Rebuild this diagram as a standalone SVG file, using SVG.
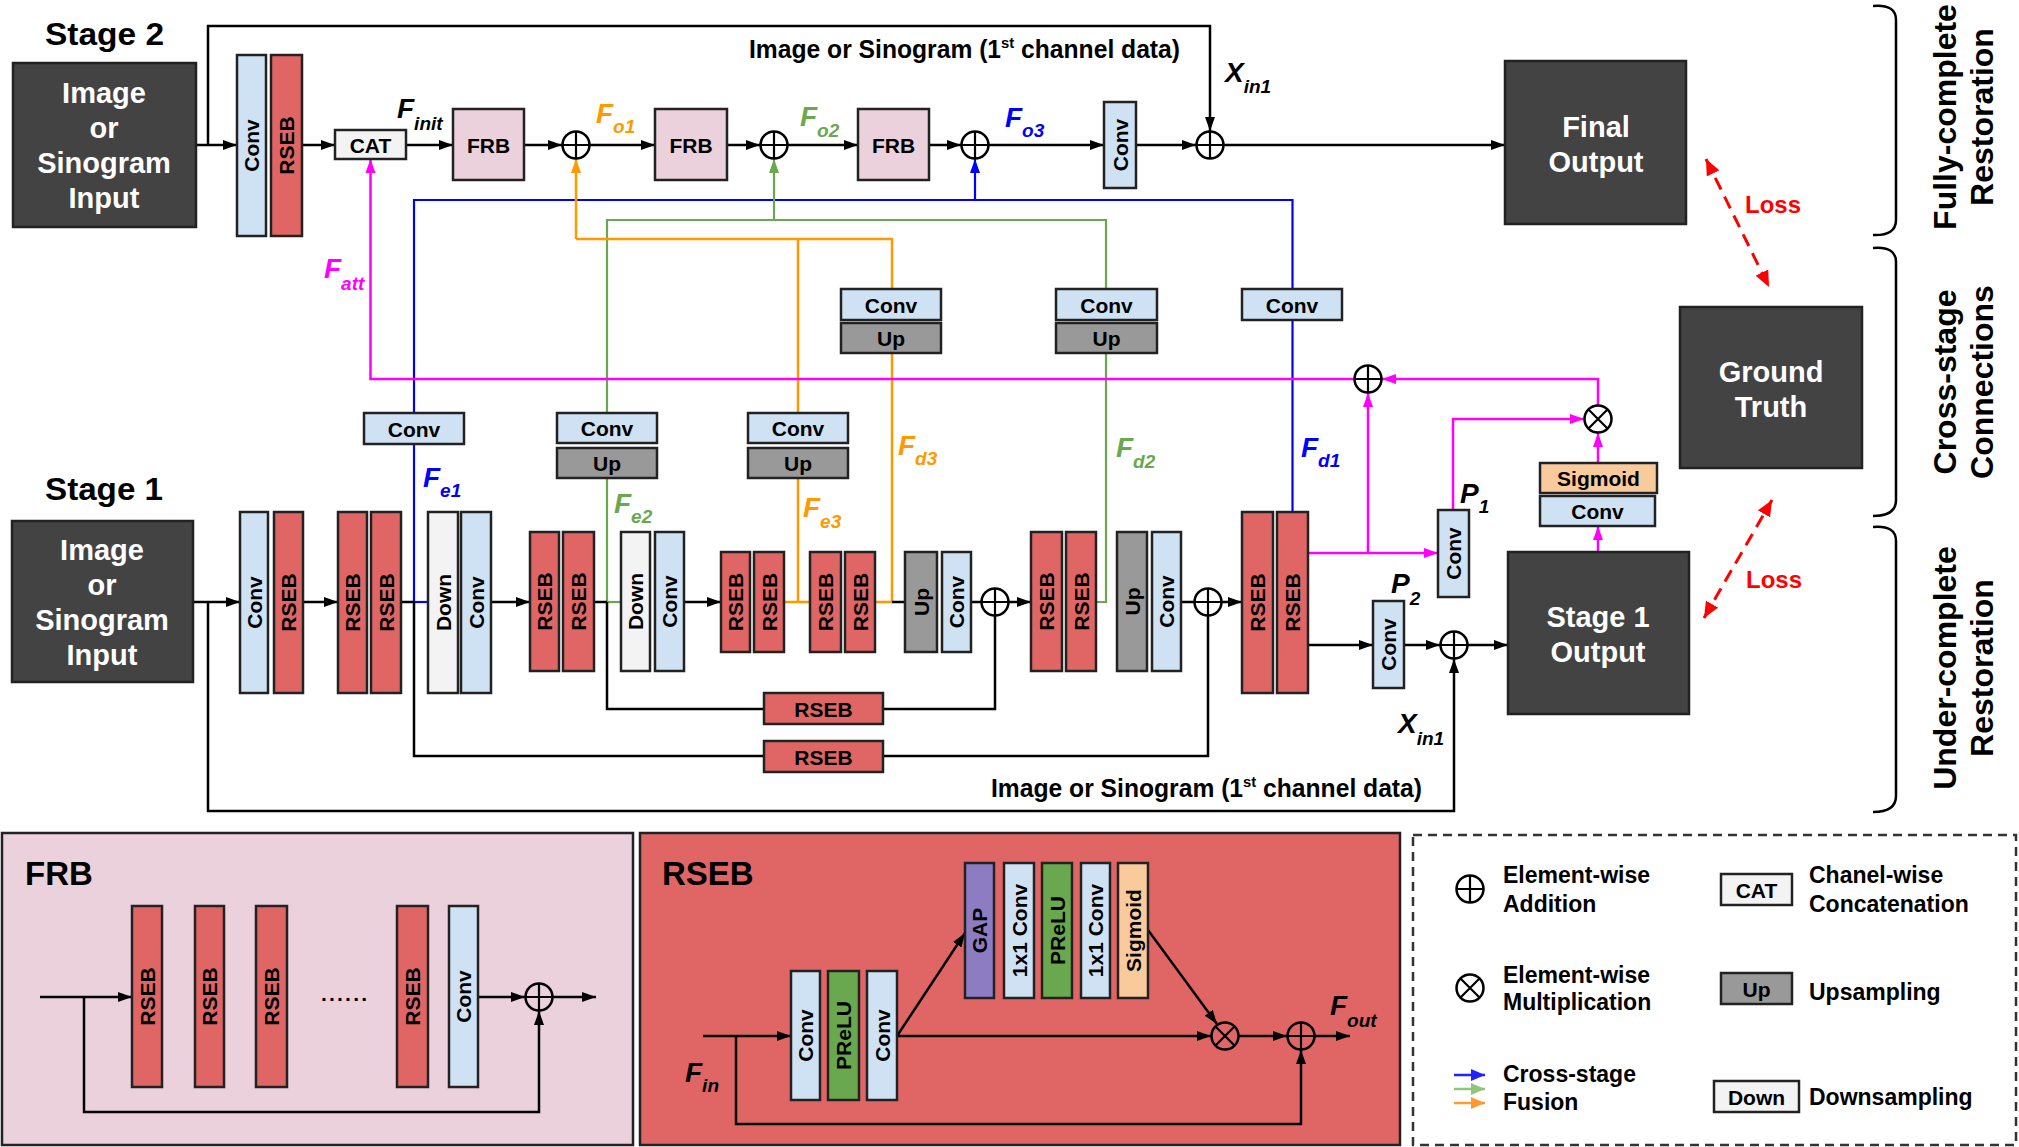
<svg xmlns="http://www.w3.org/2000/svg" width="2019" height="1147" viewBox="0 0 2019 1147">
<style>
.t{font-family:"Liberation Sans",Arial,sans-serif;font-weight:bold;fill:#000}
.b{stroke:#222;stroke-width:2.5}
.conv{fill:#cfe2f3}.rseb{fill:#e06666}.down{fill:#f3f3f3}.up{fill:#999}.frb{fill:#ead1dc}.dark{fill:#434343}
.sig{fill:#f9cb9c}.gap{fill:#8e7cc3}.prelu{fill:#6aa84f}
.vl{font-size:21px;text-anchor:middle;dominant-baseline:central}
.hl{font-size:21px;text-anchor:middle;dominant-baseline:central}
.wt{font-size:29px;fill:#fff;text-anchor:middle}
.k{fill:none;stroke:#000;stroke-width:2.5}
.mg{fill:none;stroke:#ff00ff;stroke-width:2.5}
.bl{fill:none;stroke:#0000ff;stroke-width:2.2}
.gr{fill:none;stroke:#6aa84f;stroke-width:2.2}
.or{fill:none;stroke:#ff9900;stroke-width:2.5}
.fl{font-size:28px;font-style:italic}
.sb{font-size:19px;font-style:italic}
.lg{font-size:23px}
.side{font-size:32px;text-anchor:middle}
</style>
<defs>
<marker id="ak" viewBox="0 0 14 10" refX="14" refY="5" markerWidth="14" markerHeight="10" markerUnits="userSpaceOnUse" orient="auto"><path d="M0,0L14,5L0,10z" fill="#000"/></marker>
<marker id="am" viewBox="0 0 14 10" refX="14" refY="5" markerWidth="14" markerHeight="10" markerUnits="userSpaceOnUse" orient="auto"><path d="M0,0L14,5L0,10z" fill="#ff00ff"/></marker>
<marker id="ab" viewBox="0 0 14 10" refX="14" refY="5" markerWidth="14" markerHeight="10" markerUnits="userSpaceOnUse" orient="auto"><path d="M0,0L14,5L0,10z" fill="#0000ff"/></marker>
<marker id="ag" viewBox="0 0 14 10" refX="14" refY="5" markerWidth="14" markerHeight="10" markerUnits="userSpaceOnUse" orient="auto"><path d="M0,0L14,5L0,10z" fill="#6aa84f"/></marker>
<marker id="ao" viewBox="0 0 14 10" refX="14" refY="5" markerWidth="14" markerHeight="10" markerUnits="userSpaceOnUse" orient="auto"><path d="M0,0L14,5L0,10z" fill="#ff9900"/></marker>
<marker id="ar" viewBox="0 0 16 14" refX="16" refY="7" markerWidth="16" markerHeight="14" markerUnits="userSpaceOnUse" orient="auto-start-reverse"><path d="M0,0L16,7L0,14z" fill="#ff0000"/></marker>
<marker id="lb" viewBox="0 0 14 12" refX="14" refY="6" markerWidth="14" markerHeight="12" markerUnits="userSpaceOnUse" orient="auto"><path d="M0,0L14,6L0,12z" fill="#2222ff"/></marker>
<marker id="lgm" viewBox="0 0 14 12" refX="14" refY="6" markerWidth="14" markerHeight="12" markerUnits="userSpaceOnUse" orient="auto"><path d="M0,0L14,6L0,12z" fill="#93c47d"/></marker>
<marker id="lo" viewBox="0 0 14 12" refX="14" refY="6" markerWidth="14" markerHeight="12" markerUnits="userSpaceOnUse" orient="auto"><path d="M0,0L14,6L0,12z" fill="#ff9933"/></marker>
<g id="plus"><circle r="13.5" fill="none" stroke="#000" stroke-width="2.5"/><path d="M-13.5,0H13.5M0,-13.5V13.5" stroke="#000" stroke-width="2.2"/></g>
<g id="mul"><circle r="13.5" fill="none" stroke="#000" stroke-width="2.5"/><path d="M-9.5,-9.5L9.5,9.5M-9.5,9.5L9.5,-9.5" stroke="#000" stroke-width="2.2"/></g>
</defs>
<rect width="2019" height="1147" fill="#fff"/>

<!-- panels -->
<g id="frb-panel">
<rect x="2" y="833" width="631" height="312" fill="#ead1dc" stroke="#222" stroke-width="2.5"/>
<text class="t" x="25" y="885" font-size="33">FRB</text>
</g>
<g id="rseb-panel">
<rect x="640" y="833" width="760" height="312" fill="#e06666" stroke="#222" stroke-width="2.5"/>
<text class="t" x="662" y="885" font-size="33">RSEB</text>
</g>
<g id="legend">
<rect x="1413" y="835" width="603" height="310" fill="none" stroke="#333" stroke-width="2.5" stroke-dasharray="9 6"/>
<use href="#plus" x="1470" y="889"/>
<text class="t lg" x="1503" y="883">Element-wise</text>
<text class="t lg" x="1503" y="912">Addition</text>
<use href="#mul" x="1470" y="988"/>
<text class="t lg" x="1503" y="983">Element-wise</text>
<text class="t lg" x="1503" y="1010">Multiplication</text>
<path d="M1454,1075H1485" stroke="#2222ff" stroke-width="2.5" marker-end="url(#lb)"/>
<path d="M1454,1089H1485" stroke="#93c47d" stroke-width="2.5" marker-end="url(#lgm)"/>
<path d="M1454,1103H1485" stroke="#ff9933" stroke-width="2.5" marker-end="url(#lo)"/>
<text class="t lg" x="1503" y="1082">Cross-stage</text>
<text class="t lg" x="1503" y="1110">Fusion</text>
<rect class="b down" x="1721" y="874" width="71" height="31"/>
<text class="t hl" x="1756.5" y="890">CAT</text>
<text class="t lg" x="1809" y="883">Chanel-wise</text>
<text class="t lg" x="1809" y="912">Concatenation</text>
<rect class="b up" x="1721" y="973" width="71" height="31"/>
<text class="t hl" x="1756.5" y="989">Up</text>
<text class="t lg" x="1809" y="1000">Upsampling</text>
<rect class="b down" x="1714" y="1081" width="85" height="31"/>
<text class="t hl" x="1756.5" y="1097">Down</text>
<text class="t lg" x="1809" y="1105">Downsampling</text>
</g>

<!-- connectors -->
<g id="connectors">
<!-- stage 2 -->
<path class="k" d="M196,145H237" marker-end="url(#ak)"/>
<path class="k" d="M208,145V26H1210V131" marker-end="url(#ak)"/>
<path class="k" d="M302,145H335" marker-end="url(#ak)"/>
<path class="k" d="M406,145H453" marker-end="url(#ak)"/>
<path class="k" d="M524,145H562" marker-end="url(#ak)"/>
<path class="k" d="M590,145H655" marker-end="url(#ak)"/>
<path class="k" d="M727,145H760" marker-end="url(#ak)"/>
<path class="k" d="M788,145H858" marker-end="url(#ak)"/>
<path class="k" d="M929,145H961" marker-end="url(#ak)"/>
<path class="k" d="M989,145H1104" marker-end="url(#ak)"/>
<path class="k" d="M1136,145H1196" marker-end="url(#ak)"/>
<path class="k" d="M1224,145H1505" marker-end="url(#ak)"/>
<!-- cross-stage fusion -->
<path class="bl" d="M414,602V444M414,413V200H1292.5V289M1292.5,320V512"/>
<path class="bl" d="M975,200V159" marker-end="url(#ab)"/>
<path class="bl" d="M414,602H428"/>
<path class="gr" d="M607,602V478M607,413V220H1106V289M1106,353V602H1096"/>
<path class="gr" d="M607,602H621"/>
<path class="gr" d="M774,220V159" marker-end="url(#ag)"/>
<path class="or" d="M798,602V478M798,413V239M576,239H892V289M892,353V602H875"/>
<path class="or" d="M784,602H810"/>
<path class="or" d="M576,239V159" marker-end="url(#ao)"/>
<!-- attention -->
<path class="mg" d="M1354,379H370.5V159" marker-end="url(#am)"/>
<path class="mg" d="M1598,405V379H1382" marker-end="url(#am)"/>
<path class="mg" d="M1308,553H1438" marker-end="url(#am)"/>
<path class="mg" d="M1368,553V393" marker-end="url(#am)"/>
<path class="mg" d="M1453,510V419H1584" marker-end="url(#am)"/>
<path class="mg" d="M1598,463V433" marker-end="url(#am)"/>
<path class="mg" d="M1598,552V526" marker-end="url(#am)"/>
<!-- stage 1 -->
<path class="k" d="M193,602H240" marker-end="url(#ak)"/>
<path class="k" d="M208,602V811H1454V659" marker-end="url(#ak)"/>
<path class="k" d="M303,602H338" marker-end="url(#ak)"/>
<path class="k" d="M401,602H414"/>
<path class="k" d="M491,602H530" marker-end="url(#ak)"/>
<path class="k" d="M594,602H607"/>
<path class="k" d="M684,602H721" marker-end="url(#ak)"/>
<path class="k" d="M892,602H905"/>
<path class="k" d="M971,602H982"/>
<path class="k" d="M1008,602H1031" marker-end="url(#ak)"/>
<path class="k" d="M1181,602H1195"/>
<path class="k" d="M1221,602H1242" marker-end="url(#ak)"/>
<path class="k" d="M995,615V709H883M764,709H607V602"/>
<path class="k" d="M1208,615V756H883M764,756H414V602"/>
<path class="k" d="M1308,645H1373" marker-end="url(#ak)"/>
<path class="k" d="M1404,645H1440" marker-end="url(#ak)"/>
<path class="k" d="M1468,645H1508" marker-end="url(#ak)"/>
<!-- loss -->
<path d="M1706,159L1769,287" fill="none" stroke="#ff0000" stroke-width="3" stroke-dasharray="13 8" marker-start="url(#ar)" marker-end="url(#ar)"/>
<path d="M1704,618L1772,500" fill="none" stroke="#ff0000" stroke-width="3" stroke-dasharray="13 8" marker-start="url(#ar)" marker-end="url(#ar)"/>
<!-- braces -->
<path class="k" stroke-width="3" d="M1873,6Q1896,4 1896,20V220Q1896,236 1873,235"/>
<path class="k" stroke-width="3" d="M1873,248Q1896,246 1896,262V500Q1896,516 1873,516"/>
<path class="k" stroke-width="3" d="M1873,527Q1896,525 1896,541V796Q1896,812 1873,812"/>
<!-- FRB panel -->
<path class="k" d="M40,997H132" marker-end="url(#ak)"/>
<path class="k" d="M84,997V1112H539V1011" marker-end="url(#ak)"/>
<path class="k" d="M478,997H525" marker-end="url(#ak)"/>
<path class="k" d="M553,997H596" marker-end="url(#ak)"/>
<!-- RSEB panel -->
<path class="k" d="M703,1036H791" marker-end="url(#ak)"/>
<path class="k" d="M736,1036V1124H1301V1050" marker-end="url(#ak)"/>
<path class="k" d="M897,1036L965,933" marker-end="url(#ak)"/>
<path class="k" d="M897,1036H1211" marker-end="url(#ak)"/>
<path class="k" d="M1148,930L1217,1024" marker-end="url(#ak)"/>
<path class="k" d="M1239,1036H1287" marker-end="url(#ak)"/>
<path class="k" d="M1315,1036H1350" marker-end="url(#ak)"/>
</g>

<!-- stage 2 nodes -->
<text class="t" x="45" y="45" font-size="32" textLength="119" lengthAdjust="spacingAndGlyphs">Stage 2</text>
<g id="s2-input">
<rect class="b dark" x="13" y="63" width="183" height="164"/>
<text class="t wt" x="104" y="103">Image</text>
<text class="t wt" x="104" y="138">or</text>
<text class="t wt" x="104" y="173">Sinogram</text>
<text class="t wt" x="104" y="208">Input</text>
</g>
<g id="s2-conv"><rect class="b conv" x="237" y="55" width="29" height="181"/><text class="t vl" transform="translate(251.5,145.5) rotate(-90)">Conv</text></g>
<g id="s2-rseb"><rect class="b rseb" x="271" y="55" width="31" height="181"/><text class="t vl" transform="translate(286.5,145.5) rotate(-90)">RSEB</text></g>
<g id="cat"><rect class="b down" x="335" y="130" width="71" height="29"/><text class="t hl" x="370.5" y="145">CAT</text></g>
<g id="frb1"><rect class="b frb" x="453" y="109" width="71" height="71"/><text class="t hl" x="488.5" y="145">FRB</text></g>
<g id="frb2"><rect class="b frb" x="655" y="109" width="72" height="71"/><text class="t hl" x="691" y="145">FRB</text></g>
<g id="frb3"><rect class="b frb" x="858" y="109" width="71" height="71"/><text class="t hl" x="893.5" y="145">FRB</text></g>
<g id="add-o1"><use href="#plus" x="576" y="145"/></g>
<g id="add-o2"><use href="#plus" x="774" y="145"/></g>
<g id="add-o3"><use href="#plus" x="975" y="145"/></g>
<g id="s2-conv-out"><rect class="b conv" x="1104" y="102" width="32" height="86"/><text class="t vl" transform="translate(1120,145) rotate(-90)">Conv</text></g>
<g id="add-out"><use href="#plus" x="1210" y="145"/></g>
<g id="final-output">
<rect class="b dark" x="1505" y="61" width="181" height="163"/>
<text class="t wt" x="1596" y="137">Final</text>
<text class="t wt" x="1596" y="172">Output</text>
</g>
<text class="t" x="749" y="58" font-size="25" textLength="431" lengthAdjust="spacingAndGlyphs">Image or Sinogram (1<tspan font-size="15" dy="-10">st</tspan><tspan dy="10"> channel data)</tspan></text>

<!-- labels -->
<g id="labels">
<text class="t fl" x="397" y="118">F<tspan class="sb" font-size="19" dy="12">init</tspan></text>
<text class="t fl" x="596" y="123" fill="#ff9900" style="fill:#ff9900">F<tspan font-size="19" dy="10">o1</tspan></text>
<text class="t fl" x="800" y="126" style="fill:#6aa84f">F<tspan font-size="19" dy="11">o2</tspan></text>
<text class="t fl" x="1005" y="127" style="fill:#0000ff">F<tspan font-size="19" dy="10">o3</tspan></text>
<text class="t fl" x="1225" y="82">X<tspan font-size="19" dy="11">in1</tspan></text>
<text class="t fl" x="324" y="278" style="fill:#ff00ff">F<tspan font-size="19" dy="12">att</tspan></text>
<text class="t fl" x="423" y="487" style="fill:#0000ff">F<tspan font-size="19" dy="10">e1</tspan></text>
<text class="t fl" x="614" y="513" style="fill:#6aa84f">F<tspan font-size="19" dy="10">e2</tspan></text>
<text class="t fl" x="803" y="517" style="fill:#ff9900">F<tspan font-size="19" dy="11">e3</tspan></text>
<text class="t fl" x="898" y="455" style="fill:#ff9900">F<tspan font-size="19" dy="10">d3</tspan></text>
<text class="t fl" x="1116" y="457" style="fill:#6aa84f">F<tspan font-size="19" dy="11">d2</tspan></text>
<text class="t fl" x="1301" y="457" style="fill:#0000ff">F<tspan font-size="19" dy="10">d1</tspan></text>
<text class="t fl" x="1460" y="503">P<tspan font-size="19" dy="10">1</tspan></text>
<text class="t fl" x="1391" y="593">P<tspan font-size="19" dy="12">2</tspan></text>
<text class="t fl" x="1398" y="733">X<tspan font-size="19" dy="12">in1</tspan></text>
<text class="t fl" x="685" y="1082">F<tspan font-size="19" dy="10">in</tspan></text>
<text class="t fl" x="1330" y="1015">F<tspan font-size="19" dy="12">out</tspan></text>
<text class="t" x="1745" y="213" font-size="24" style="fill:#ff0000">Loss</text>
<text class="t" x="1746" y="588" font-size="24" style="fill:#ff0000">Loss</text>
<text class="t side" transform="translate(1956,117) rotate(-90)">Fully-complete</text>
<text class="t side" transform="translate(1993,117) rotate(-90)">Restoration</text>
<text class="t side" transform="translate(1956,382) rotate(-90)">Cross-stage</text>
<text class="t side" transform="translate(1993,382) rotate(-90)">Connections</text>
<text class="t side" transform="translate(1956,668) rotate(-90)">Under-complete</text>
<text class="t side" transform="translate(1993,668) rotate(-90)">Restoration</text>
</g>

<!-- cross-stage conv/up nodes -->
<g id="fe1-conv"><rect class="b conv" x="364" y="413" width="100" height="31"/><text class="t hl" x="414" y="429">Conv</text></g>
<g id="fe2-convup"><rect class="b conv" x="557" y="413" width="100" height="30"/><text class="t hl" x="607" y="428.5">Conv</text><rect class="b up" x="557" y="448" width="100" height="30"/><text class="t hl" x="607" y="463.5">Up</text></g>
<g id="fe3-convup"><rect class="b conv" x="748" y="413" width="100" height="30"/><text class="t hl" x="798" y="428.5">Conv</text><rect class="b up" x="748" y="448" width="100" height="30"/><text class="t hl" x="798" y="463.5">Up</text></g>
<g id="fd3-convup"><rect class="b conv" x="841" y="289" width="100" height="31"/><text class="t hl" x="891" y="305">Conv</text><rect class="b up" x="841" y="323" width="100" height="30"/><text class="t hl" x="891" y="338.5">Up</text></g>
<g id="fd2-convup"><rect class="b conv" x="1056" y="289" width="101" height="31"/><text class="t hl" x="1106.5" y="305">Conv</text><rect class="b up" x="1056" y="323" width="101" height="30"/><text class="t hl" x="1106.5" y="338.5">Up</text></g>
<g id="fd1-conv"><rect class="b conv" x="1242" y="289" width="100" height="31"/><text class="t hl" x="1292" y="305">Conv</text></g>
<g id="add-att"><use href="#plus" x="1368" y="379"/></g>
<g id="mul-att"><use href="#mul" x="1598" y="419"/></g>
<g id="sigmoid"><rect class="b sig" x="1540" y="463" width="117" height="30"/><text class="t hl" x="1598.5" y="478.5">Sigmoid</text></g>
<g id="sam-conv"><rect class="b conv" x="1540" y="496" width="115" height="30"/><text class="t hl" x="1597.5" y="511.5">Conv</text></g>
<g id="ground-truth">
<rect class="b dark" x="1680" y="307" width="182" height="161"/>
<text class="t wt" x="1771" y="382">Ground</text>
<text class="t wt" x="1771" y="417">Truth</text>
</g>

<!-- stage 1 nodes -->
<text class="t" x="45" y="500" font-size="32" textLength="118" lengthAdjust="spacingAndGlyphs">Stage 1</text>
<g id="s1-input">
<rect class="b dark" x="12" y="521" width="181" height="161"/>
<text class="t wt" x="102" y="560">Image</text>
<text class="t wt" x="102" y="595">or</text>
<text class="t wt" x="102" y="630">Sinogram</text>
<text class="t wt" x="102" y="665">Input</text>
</g>
<g id="s1-conv"><rect class="b conv" x="240" y="512" width="28" height="181"/><text class="t vl" transform="translate(254,602.5) rotate(-90)">Conv</text></g>
<g id="s1-rseb"><rect class="b rseb" x="274" y="512" width="29" height="181"/><text class="t vl" transform="translate(288.5,602.5) rotate(-90)">RSEB</text></g>
<g id="enc1">
<rect class="b rseb" x="338" y="512" width="29" height="181"/><text class="t vl" transform="translate(352.5,602.5) rotate(-90)">RSEB</text>
<rect class="b rseb" x="371" y="512" width="30" height="181"/><text class="t vl" transform="translate(386,602.5) rotate(-90)">RSEB</text>
</g>
<g id="down1">
<rect class="b down" x="428" y="512" width="30" height="181"/><text class="t vl" transform="translate(443,602.5) rotate(-90)">Down</text>
<rect class="b conv" x="461" y="512" width="30" height="181"/><text class="t vl" transform="translate(476,602.5) rotate(-90)">Conv</text>
</g>
<g id="enc2">
<rect class="b rseb" x="530" y="532" width="29" height="139"/><text class="t vl" transform="translate(544.5,601.5) rotate(-90)">RSEB</text>
<rect class="b rseb" x="563" y="532" width="31" height="139"/><text class="t vl" transform="translate(578.5,601.5) rotate(-90)">RSEB</text>
</g>
<g id="down2">
<rect class="b down" x="621" y="532" width="29" height="139"/><text class="t vl" transform="translate(635.5,601.5) rotate(-90)">Down</text>
<rect class="b conv" x="655" y="532" width="29" height="139"/><text class="t vl" transform="translate(669.5,601.5) rotate(-90)">Conv</text>
</g>
<g id="enc3">
<rect class="b rseb" x="721" y="552" width="29" height="100"/><text class="t vl" transform="translate(735.5,602) rotate(-90)">RSEB</text>
<rect class="b rseb" x="754" y="552" width="30" height="100"/><text class="t vl" transform="translate(769,602) rotate(-90)">RSEB</text>
</g>
<g id="dec3">
<rect class="b rseb" x="810" y="552" width="31" height="100"/><text class="t vl" transform="translate(825.5,602) rotate(-90)">RSEB</text>
<rect class="b rseb" x="845" y="552" width="30" height="100"/><text class="t vl" transform="translate(860,602) rotate(-90)">RSEB</text>
</g>
<g id="up3">
<rect class="b up" x="905" y="552" width="32" height="100"/><text class="t vl" transform="translate(921,602) rotate(-90)">Up</text>
<rect class="b conv" x="942" y="552" width="29" height="100"/><text class="t vl" transform="translate(956.5,602) rotate(-90)">Conv</text>
</g>
<g id="add-u3"><use href="#plus" x="995" y="602"/></g>
<g id="dec2">
<rect class="b rseb" x="1031" y="532" width="31" height="139"/><text class="t vl" transform="translate(1046.5,601.5) rotate(-90)">RSEB</text>
<rect class="b rseb" x="1066" y="532" width="30" height="139"/><text class="t vl" transform="translate(1081,601.5) rotate(-90)">RSEB</text>
</g>
<g id="up2">
<rect class="b up" x="1117" y="532" width="30" height="139"/><text class="t vl" transform="translate(1132,601.5) rotate(-90)">Up</text>
<rect class="b conv" x="1152" y="532" width="29" height="139"/><text class="t vl" transform="translate(1166.5,601.5) rotate(-90)">Conv</text>
</g>
<g id="add-u2"><use href="#plus" x="1208" y="602"/></g>
<g id="dec1">
<rect class="b rseb" x="1242" y="512" width="31" height="181"/><text class="t vl" transform="translate(1257.5,602.5) rotate(-90)">RSEB</text>
<rect class="b rseb" x="1277" y="512" width="31" height="181"/><text class="t vl" transform="translate(1292.5,602.5) rotate(-90)">RSEB</text>
</g>
<g id="skip-rseb-2"><rect class="b rseb" x="764" y="693" width="119" height="31"/><text class="t hl" x="823.5" y="709">RSEB</text></g>
<g id="skip-rseb-1"><rect class="b rseb" x="764" y="741" width="119" height="31"/><text class="t hl" x="823.5" y="757">RSEB</text></g>
<g id="p1-conv"><rect class="b conv" x="1438" y="510" width="31" height="87"/><text class="t vl" transform="translate(1453.5,553.5) rotate(-90)">Conv</text></g>
<g id="p2-conv"><rect class="b conv" x="1373" y="601" width="31" height="87"/><text class="t vl" transform="translate(1388.5,644.5) rotate(-90)">Conv</text></g>
<g id="add-p"><use href="#plus" x="1454" y="645"/></g>
<g id="stage1-output">
<rect class="b dark" x="1508" y="552" width="181" height="162"/>
<text class="t wt" x="1598" y="627">Stage 1</text>
<text class="t wt" x="1598" y="662">Output</text>
</g>
<text class="t" x="991" y="797" font-size="25" textLength="431" lengthAdjust="spacingAndGlyphs">Image or Sinogram (1<tspan font-size="15" dy="-10">st</tspan><tspan dy="10"> channel data)</tspan></text>

<!-- FRB panel nodes -->
<g id="frb-detail">
<rect class="b rseb" x="132" y="906" width="30" height="181"/><text class="t vl" transform="translate(147,996.5) rotate(-90)">RSEB</text>
<rect class="b rseb" x="195" y="906" width="29" height="181"/><text class="t vl" transform="translate(209.5,996.5) rotate(-90)">RSEB</text>
<rect class="b rseb" x="256" y="906" width="31" height="181"/><text class="t vl" transform="translate(271.5,996.5) rotate(-90)">RSEB</text>
<text class="t" x="321" y="1001" font-size="21" textLength="46" lengthAdjust="spacing">......</text>
<rect class="b rseb" x="397" y="906" width="31" height="181"/><text class="t vl" transform="translate(412.5,996.5) rotate(-90)">RSEB</text>
<rect class="b conv" x="449" y="906" width="29" height="181"/><text class="t vl" transform="translate(463.5,996.5) rotate(-90)">Conv</text>
<use href="#plus" x="539" y="997"/>
</g>

<!-- RSEB panel nodes -->
<g id="rseb-detail">
<rect class="b conv" x="791" y="971" width="29" height="129"/><text class="t vl" transform="translate(805.5,1035.5) rotate(-90)">Conv</text>
<rect class="b prelu" x="828" y="971" width="31" height="129"/><text class="t vl" transform="translate(843.5,1035.5) rotate(-90)">PReLU</text>
<rect class="b conv" x="867" y="971" width="30" height="129"/><text class="t vl" transform="translate(882,1035.5) rotate(-90)">Conv</text>
<rect class="b gap" x="965" y="863" width="29" height="135"/><text class="t vl" transform="translate(979.5,930.5) rotate(-90)">GAP</text>
<rect class="b conv" x="1004" y="863" width="30" height="135"/><text class="t vl" transform="translate(1019,930.5) rotate(-90)">1x1 Conv</text>
<rect class="b prelu" x="1042" y="863" width="30" height="135"/><text class="t vl" transform="translate(1057,930.5) rotate(-90)">PReLU</text>
<rect class="b conv" x="1081" y="863" width="29" height="135"/><text class="t vl" transform="translate(1095.5,930.5) rotate(-90)">1x1 Conv</text>
<rect class="b sig" x="1118" y="863" width="30" height="135"/><text class="t vl" transform="translate(1133,930.5) rotate(-90)">Sigmoid</text>
<use href="#mul" x="1225" y="1036"/>
<use href="#plus" x="1301" y="1036"/>
</g>
</svg>
